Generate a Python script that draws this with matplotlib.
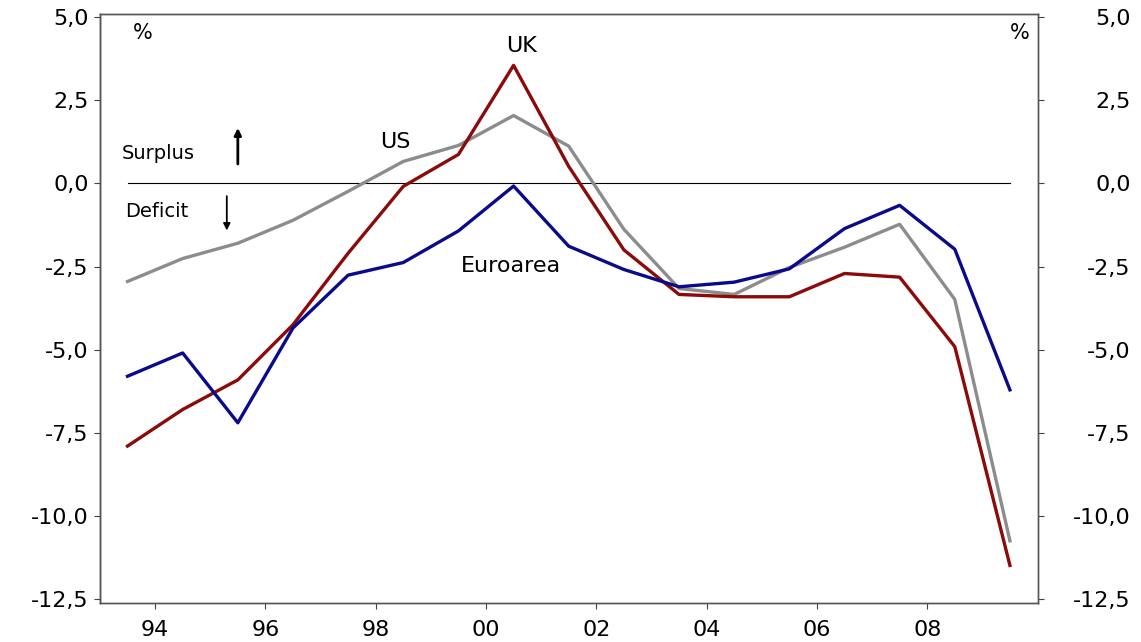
import numpy as np
import matplotlib.pyplot as plt
from matplotlib.ticker import FixedLocator, FuncFormatter

# Annual budget balance, % of GDP, 1993-2009
years = np.arange(1993, 2010)
euroarea = [-5.8, -5.1, -7.2, -4.35, -2.76, -2.38, -1.43, -0.08, -1.89, -2.59,
            -3.11, -2.97, -2.57, -1.36, -0.66, -1.98, -6.21]
uk = [-7.9, -6.8, -5.91, -4.25, -2.1, -0.09, 0.87, 3.55, 0.51, -2.0,
      -3.34, -3.41, -3.41, -2.71, -2.82, -4.91, -11.49]
us = [-2.95, -2.26, -1.8, -1.11, -0.24, 0.66, 1.14, 2.04, 1.12, -1.38,
      -3.16, -3.34, -2.53, -1.92, -1.23, -3.49, -10.75]

tick_years = [1994, 1996, 1998, 2000, 2002, 2004, 2006, 2008]
yticks = [5.0, 2.5, 0.0, -2.5, -5.0, -7.5, -10.0, -12.5]

plt.rcParams['font.family'] = ['DejaVu Sans']

fig = plt.figure(figsize=(11.41, 6.42), dpi=100)
ax = fig.add_axes([0.0876, 0.0607, 0.8217, 0.9173])

x = years + 0.5  # values plotted mid-year
ax.plot([x[0], x[-1]], [0, 0], color='black', lw=0.8)
ax.plot(x, us, color='#8c8c8c', lw=2.4)
ax.plot(x, uk, color='#8b0a0a', lw=2.4)
ax.plot(x, euroarea, color='#0a0a8c', lw=2.4)

ax.set_xlim(1993, 2010)
ax.set_ylim(-12.62, 5.09)

fmt = FuncFormatter(lambda v, p: f'{v:.1f}'.replace('.', ','))
ax.yaxis.set_major_locator(FixedLocator(yticks))
ax.yaxis.set_major_formatter(fmt)
ax.xaxis.set_major_locator(FixedLocator(tick_years))
ax.xaxis.set_major_formatter(FuncFormatter(lambda v, p: f'{int(v) % 100:02d}'))

ax2 = ax.twinx()
ax2.set_ylim(ax.get_ylim())
ax2.yaxis.set_major_locator(FixedLocator(yticks))
ax2.yaxis.set_major_formatter(fmt)

for a in (ax, ax2):
    a.tick_params(direction='out', length=4, width=0.8, labelsize=16,
                  colors='#444444', labelcolor='black', pad=4)
    for s in a.spines.values():
        s.set_color('#555555')
        s.set_linewidth(1.0)
ax.spines['left'].set_color('black')
ax.tick_params(axis='x', pad=8)
ax2.tick_params(axis='y', pad=63)
for lab in ax2.get_yticklabels():
    lab.set_horizontalalignment('right')

ax.text(1993.6, 4.35, '%', fontsize=15)
ax.text(2009.85, 4.35, '%', fontsize=15, ha='right')
ax.text(2000.65, 3.95, 'UK', fontsize=16, ha='center')
ax.text(1998.35, 1.05, 'US', fontsize=16, ha='center')
ax.text(2000.45, -2.65, 'Euroarea', fontsize=16, ha='center')
ax.text(1993.4, 0.9, 'Surplus', fontsize=14, va='center')
ax.text(1993.45, -0.85, 'Deficit', fontsize=14, va='center')
ax.annotate('', xy=(1995.5, 1.75), xytext=(1995.5, 0.5),
            arrowprops=dict(arrowstyle='-|>', color='black', lw=2, mutation_scale=10))
ax.annotate('', xy=(1995.3, -1.5), xytext=(1995.3, -0.3),
            arrowprops=dict(arrowstyle='-|>', color='black', lw=1.3, mutation_scale=10))

fig.savefig('out.png', dpi=100)
